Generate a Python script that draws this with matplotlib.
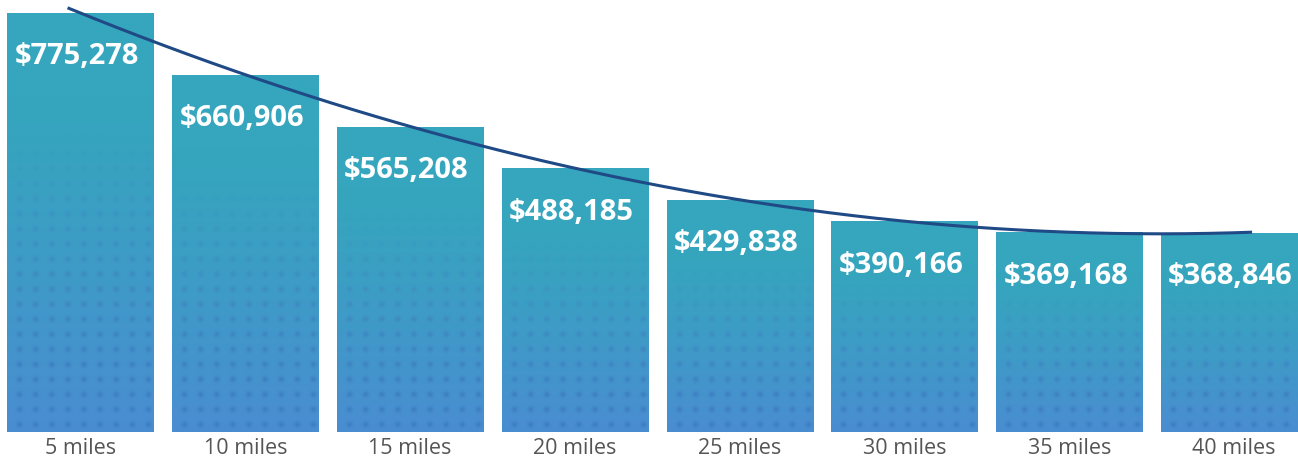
import matplotlib
matplotlib.use("Agg")
import matplotlib.pyplot as plt
import numpy as np
from matplotlib.colors import to_rgb

plt.rcParams['font.family'] = ['Open Sans', 'DejaVu Sans']

distances = ["5 miles", "10 miles", "15 miles", "20 miles",
             "25 miles", "30 miles", "35 miles", "40 miles"]
values = [775278, 660906, 565208, 488185, 429838, 390166, 369168, 368846]

W, H, DPI = 12.98, 4.58, 100
fig = plt.figure(figsize=(W, H), dpi=DPI)
ax = fig.add_axes([0, 26 / 458, 1, 432 / 458])

x = np.arange(len(values))
bar_w = 0.886
ymax = 799300
ax.set_xlim(-0.4885, 7.388)
ax.set_ylim(0, ymax)

bars = ax.bar(x, values, width=bar_w, facecolor='none', edgecolor='none')

# gradient + dot texture, clipped to each bar
top_c = np.array(to_rgb('#35a6bd'))
bot_c = np.array(to_rgb('#4a8dd2'))
dot_c = np.array(to_rgb('#3a78bd'))
px_per_y = 432 / ymax
px_per_x = 1298 / (7.388 + 0.4885)
for rect, v in zip(bars, values):
    hpx = int(v * px_per_y)
    wpx = int(bar_w * px_per_x)
    yy, xx = np.mgrid[0:hpx, 0:wpx]
    t = (yy / hpx)[..., None]           # 0 at top, 1 at bottom
    base = top_c + (bot_c - top_c) * np.clip((t - 0.2) / 0.8, 0, 1) ** 1.2
    # dots anchored to the bar bottom
    gy = (hpx - 1 - yy) % 15 - 7
    gx = (xx - 4) % 16 - 8
    d = np.exp(-(gx ** 2 + gy ** 2) / 8.0)[..., None]
    strength = np.clip((t - 0.25) / 0.6, 0, 1) * 0.75
    img = base * (1 - d * strength) + dot_c * d * strength
    im = ax.imshow(img, extent=(rect.get_x(), rect.get_x() + bar_w, 0, v),
                   aspect='auto', interpolation='bilinear', zorder=1)
    im.set_clip_path(rect)

    ax.annotate(f"${v:,}", xy=(rect.get_x(), v), xytext=(7, -44),
                textcoords='offset pixels', ha='left', va='center',
                color='white', fontsize=21, fontweight='bold', zorder=3)

# trend line (cubic fit through the bar values)
coef = np.polyfit(x, values, 3)
xs = np.linspace(-0.07, 7.1, 200)
ax.plot(xs, np.polyval(coef, xs), color='#1f4a86', lw=2.2, zorder=2)

ax.set_xticks(x)
ax.set_xticklabels(distances, fontsize=15.5, color='#555555')
ax.tick_params(axis='x', length=0, pad=4)
ax.set_yticks([])
for s in ax.spines.values():
    s.set_visible(False)

fig.savefig("out.png", dpi=DPI)
